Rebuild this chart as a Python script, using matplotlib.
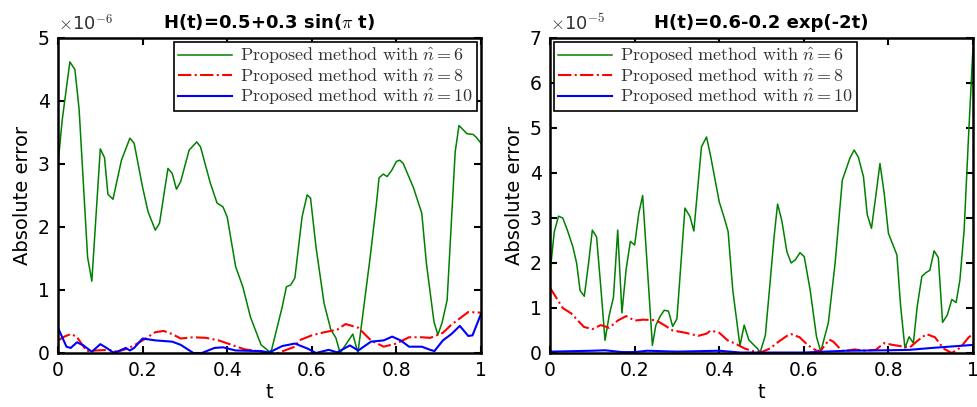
import numpy as np
import matplotlib.pyplot as plt

plt.rcParams['mathtext.fontset'] = 'cm'

# left panel, H(t)=0.5+0.3 sin(pi t), values x 1e-6
t1_n6 = [0, 0.01, 0.028, 0.04, 0.05, 0.07, 0.08, 0.10, 0.11, 0.118, 0.13, 0.15, 0.17, 0.18,
         0.20, 0.213, 0.23, 0.24, 0.26, 0.27, 0.28, 0.29, 0.31, 0.328, 0.337, 0.36, 0.376,
         0.39, 0.40, 0.42, 0.437, 0.455, 0.48, 0.50, 0.505, 0.53, 0.54, 0.55, 0.56, 0.577,
         0.589, 0.597, 0.61, 0.629, 0.645, 0.657, 0.667, 0.683, 0.697, 0.709, 0.738, 0.753,
         0.759, 0.769, 0.778, 0.789, 0.80, 0.808, 0.816, 0.84, 0.86, 0.871, 0.889, 0.898,
         0.908, 0.92, 0.939, 0.948, 0.967, 0.981, 0.988, 1.0]
e1_n6 = [3.0, 3.7, 4.62, 4.5, 3.86, 1.52, 1.14, 3.24, 3.1, 2.52, 2.44, 3.06, 3.41, 3.33,
         2.63, 2.24, 1.95, 2.06, 2.93, 2.85, 2.6, 2.72, 3.22, 3.35, 3.27, 2.7, 2.38,
         2.32, 2.16, 1.37, 1.05, 0.57, 0.13, 0.02, 0.05, 0.73, 1.05, 1.08, 1.19, 2.16,
         2.51, 2.46, 1.68, 0.79, 0.37, 0.24, 0.0, 0.16, 0.3, 0.0, 1.52, 2.38,
         2.78, 2.84, 2.8, 2.9, 3.04, 3.06, 3.01, 2.63, 2.22, 1.42, 0.49, 0.29,
         0.48, 0.84, 3.19, 3.61, 3.48, 3.47, 3.43, 3.33]

t1_n8 = [0, 0.015, 0.03, 0.044, 0.068, 0.09, 0.12, 0.14, 0.16, 0.18, 0.20, 0.23, 0.25, 0.27,
         0.29, 0.32, 0.35, 0.38, 0.41, 0.44, 0.48, 0.50, 0.52, 0.54, 0.56, 0.57, 0.60,
         0.63, 0.66, 0.68, 0.71, 0.74, 0.77, 0.80, 0.83, 0.86, 0.88, 0.91, 0.93, 0.96,
         0.97, 1.0]
e1_n8 = [0.2, 0.26, 0.3, 0.26, 0.03, 0.04, 0.05, 0.02, 0.06, 0.12, 0.2, 0.33, 0.35, 0.3,
         0.23, 0.25, 0.24, 0.2, 0.13, 0.06, 0.02, 0.0, 0.0, 0.05, 0.1, 0.2, 0.28,
         0.33, 0.37, 0.46, 0.4, 0.2, 0.1, 0.15, 0.25, 0.25, 0.24, 0.32, 0.45, 0.6,
         0.65, 0.64]

t1_n10 = [0, 0.02, 0.03, 0.045, 0.06, 0.08, 0.10, 0.115, 0.13, 0.14, 0.16, 0.17, 0.18, 0.20,
          0.23, 0.27, 0.29, 0.32, 0.34, 0.37, 0.39, 0.42, 0.48, 0.50, 0.53, 0.56, 0.59,
          0.61, 0.64, 0.66, 0.69, 0.71, 0.74, 0.77, 0.79, 0.81, 0.83, 0.86, 0.88, 0.89,
          0.91, 0.93, 0.95, 0.97, 0.98, 1.0]
e1_n10 = [0.4, 0.1, 0.08, 0.17, 0.12, 0.02, 0.14, 0.08, 0.01, 0.02, 0.08, 0.04, 0.08, 0.23,
          0.2, 0.18, 0.13, 0.0, 0.0, 0.08, 0.09, 0.04, 0.03, 0.01, 0.11, 0.15, 0.07,
          0.0, 0.05, 0.01, 0.12, 0.04, 0.18, 0.2, 0.26, 0.2, 0.1, 0.1, 0.05, 0.03,
          0.2, 0.3, 0.43, 0.27, 0.28, 0.62]

# right panel, H(t)=0.6-0.2 exp(-2t), values x 1e-5
t2_n6 = [0, 0.01, 0.02, 0.03, 0.041, 0.054, 0.063, 0.071, 0.081, 0.091, 0.10, 0.11, 0.12,
         0.13, 0.14, 0.15, 0.16, 0.17, 0.18, 0.19, 0.20, 0.21, 0.219, 0.242, 0.25, 0.26,
         0.27, 0.28, 0.29, 0.30, 0.319, 0.331, 0.34, 0.358, 0.37, 0.38, 0.40, 0.411, 0.421,
         0.432, 0.449, 0.459, 0.47, 0.489, 0.497, 0.509, 0.52, 0.53, 0.538, 0.548, 0.56,
         0.57, 0.58, 0.591, 0.601, 0.615, 0.63, 0.64, 0.658, 0.674, 0.691, 0.709, 0.719,
         0.729, 0.741, 0.75, 0.76, 0.771, 0.78, 0.79, 0.80, 0.82, 0.829, 0.839, 0.849,
         0.859, 0.868, 0.879, 0.888, 0.898, 0.908, 0.918, 0.928, 0.939, 0.95, 0.96, 0.969,
         0.979, 0.989, 1.0]
e2_n6 = [1.78, 2.69, 3.04, 3.0, 2.73, 2.36, 1.99, 1.39, 1.26, 1.99, 2.73, 2.58, 1.47,
         0.28, 0.84, 1.24, 2.73, 0.89, 1.87, 2.48, 2.4, 3.11, 3.5, 0.17, 0.61, 0.81,
         0.95, 0.93, 0.59, 0.76, 3.22, 3.03, 2.71, 4.58, 4.8, 4.36, 3.36, 3.03, 2.7,
         1.4, 0.16, 0.62, 0.29, 0.11, 0.02, 0.39, 1.54, 2.61, 3.31, 2.94, 2.25,
         2.0, 2.07, 2.23, 2.14, 1.4, 0.36, 0.03, 0.67, 2.0, 3.84, 4.33, 4.51,
         4.35, 3.92, 3.07, 2.77, 3.55, 4.21, 3.55, 2.66, 2.18, 1.03, 0.11, 0.36,
         0.22, 1.03, 1.7, 1.78, 1.84, 2.27, 2.12, 0.68, 0.84, 1.19, 1.12, 1.62,
         2.73, 4.73, 6.8]

t2_n8 = [0, 0.02, 0.03, 0.05, 0.07, 0.08, 0.10, 0.12, 0.14, 0.16, 0.18, 0.20, 0.22, 0.25,
         0.27, 0.29, 0.32, 0.35, 0.37, 0.38, 0.40, 0.42, 0.44, 0.46, 0.48, 0.50, 0.52,
         0.54, 0.56, 0.57, 0.59, 0.61, 0.63, 0.64, 0.66, 0.67, 0.69, 0.70, 0.72, 0.74,
         0.77, 0.79, 0.81, 0.83, 0.85, 0.87, 0.89, 0.91, 0.93, 0.95, 0.97, 0.99, 1.0]
e2_n8 = [1.45, 1.15, 1.0, 0.88, 0.68, 0.58, 0.53, 0.62, 0.56, 0.72, 0.82, 0.72, 0.74, 0.73,
         0.62, 0.5, 0.45, 0.38, 0.43, 0.5, 0.45, 0.28, 0.2, 0.1, 0.04, 0.02, 0.1,
         0.25, 0.38, 0.42, 0.35, 0.17, 0.05, 0.05, 0.3, 0.25, 0.05, 0.05, 0.08, 0.05,
         0.07, 0.22, 0.18, 0.15, 0.12, 0.28, 0.42, 0.35, 0.1, 0.0, 0.12, 0.35, 0.42]

t2_n10 = [0, 0.1, 0.13, 0.17, 0.2, 0.23, 0.3, 0.4, 0.45, 0.6, 0.7, 0.8, 0.85, 0.9, 1.0]
e2_n10 = [0.03, 0.05, 0.06, 0.02, 0.02, 0.05, 0.03, 0.05, 0.01, 0.01, 0.05, 0.06, 0.07, 0.11, 0.18]

labels = [r'$\mathrm{Proposed\ method\ with\ }\hat{n}=6$',
          r'$\mathrm{Proposed\ method\ with\ }\hat{n}=8$',
          r'$\mathrm{Proposed\ method\ with\ }\hat{n}=10$']

panels = [
    dict(rect=[0.0593, 0.1327, 0.4325, 0.774], title=r'H(t)=0.5+0.3 sin($\pi$ t)',
         data=[(t1_n6, e1_n6), (t1_n8, e1_n8), (t1_n10, e1_n10)],
         ymax=5, exp='-6', legloc='upper right'),
    dict(rect=[0.5624, 0.1327, 0.4325, 0.774], title='H(t)=0.6-0.2 exp(-2t)',
         data=[(t2_n6, e2_n6), (t2_n8, e2_n8), (t2_n10, e2_n10)],
         ymax=7, exp='-5', legloc='upper left'),
]

fig = plt.figure(figsize=(9.78, 4.07), dpi=100)
for p in panels:
    ax = fig.add_axes(p['rect'])
    (ta, ea), (tb, eb), (tc, ec) = p['data']
    ax.plot(ta, ea, color=(0, 0.5, 0), lw=1.1, label=labels[0])
    ax.plot(tb, eb, color='red', lw=1.5, ls='-.', label=labels[1])
    ax.plot(tc, ec, color='blue', lw=1.5, label=labels[2])
    ax.set_xlim(0, 1)
    ax.set_ylim(0, p['ymax'])
    ax.set_xticks([0, 0.2, 0.4, 0.6, 0.8, 1])
    ax.set_xticklabels(['0', '0.2', '0.4', '0.6', '0.8', '1'])
    ax.set_yticks(range(p['ymax'] + 1))
    ax.tick_params(direction='in', top=True, right=True, length=5, width=1.5,
                   labelsize=13.5, pad=6)
    for s in ax.spines.values():
        s.set_linewidth(1.8)
    ax.set_title(p['title'], fontsize=13, fontweight='bold', pad=7)
    ax.set_xlabel('t', fontsize=14, labelpad=2)
    ax.set_ylabel('Absolute error', fontsize=14, labelpad=4)
    ax.text(0.0, 1.012, r'$\times$10$^{' + p['exp'] + '}$', transform=ax.transAxes,
            fontsize=13, color='#333333', ha='left', va='bottom')
    leg = ax.legend(loc=p['legloc'], fancybox=False, framealpha=1,
                    edgecolor='black', borderaxespad=0.2, handlelength=3.0,
                    handletextpad=0.4, labelspacing=0.02, borderpad=0.25,
                    prop={'size': 13})
    leg.get_frame().set_linewidth(1.2)
    for txt in leg.get_texts():
        txt.set_color('#333333')

fig.savefig('out.png', dpi=100)
